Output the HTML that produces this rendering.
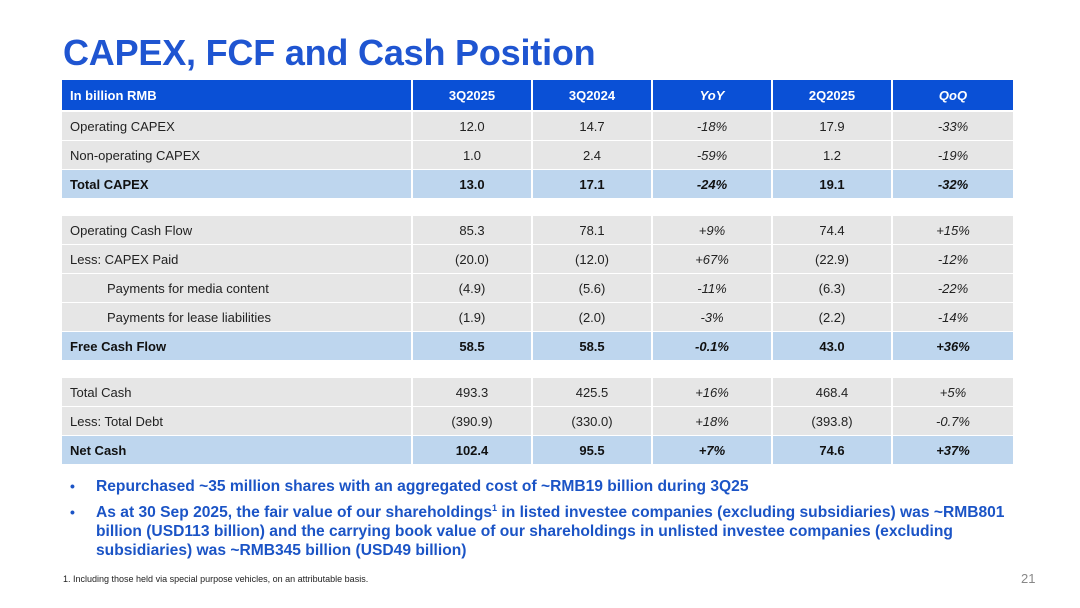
<!DOCTYPE html>
<html><head><meta charset="utf-8">
<style>
*{margin:0;padding:0;box-sizing:border-box}
body{width:1080px;height:608px;background:#fff;font-family:"Liberation Sans",sans-serif;position:relative;overflow:hidden}
#title{position:absolute;left:63px;top:32px;font-size:36px;font-weight:bold;color:#1f55d1;letter-spacing:-0.2px}
.row{position:absolute;left:62px;width:951px;height:28px;display:flex;font-size:13px;color:#222}
.row div{border-right:2px solid #fff;display:flex;align-items:center;justify-content:center;height:100%}
.row div:last-child{border-right:none}
.row div:first-child{justify-content:flex-start;padding-left:8px;width:351px}
.c{width:120px}
.hdr{background:#0a50d6;color:#fff;font-weight:bold;height:30px}
.g{background:#e6e6e6}
.b{background:#bed6ee;font-weight:bold;color:#111}
.i{font-style:italic}
.ind div:first-child{padding-left:45px}
.bul{position:absolute;left:70px;font-size:15.6px;font-weight:bold;color:#1b54c6;line-height:19px}
.bul span.d{position:absolute;left:0;top:0;font-size:14px;color:#1b54c6}
.bul p{margin-left:26px}
#fn{position:absolute;left:63px;top:574px;font-size:9px;color:#222}
#pg{position:absolute;left:1021px;top:571px;font-size:13px;color:#888}
</style></head><body>
<div id="title">CAPEX, FCF and Cash Position</div>

<div class="row hdr" style="top:80px"><div>In billion RMB</div><div class="c">3Q2025</div><div class="c">3Q2024</div><div class="c i">YoY</div><div class="c">2Q2025</div><div class="c i">QoQ</div></div>

<div class="row g" style="top:112px"><div>Operating CAPEX</div><div class="c">12.0</div><div class="c">14.7</div><div class="c i">-18%</div><div class="c">17.9</div><div class="c i">-33%</div></div>
<div class="row g" style="top:141px"><div>Non-operating CAPEX</div><div class="c">1.0</div><div class="c">2.4</div><div class="c i">-59%</div><div class="c">1.2</div><div class="c i">-19%</div></div>
<div class="row b" style="top:170px"><div>Total CAPEX</div><div class="c">13.0</div><div class="c">17.1</div><div class="c i">-24%</div><div class="c">19.1</div><div class="c i">-32%</div></div>

<div class="row g" style="top:216px"><div>Operating Cash Flow</div><div class="c">85.3</div><div class="c">78.1</div><div class="c i">+9%</div><div class="c">74.4</div><div class="c i">+15%</div></div>
<div class="row g" style="top:245px"><div>Less: CAPEX Paid</div><div class="c">(20.0)</div><div class="c">(12.0)</div><div class="c i">+67%</div><div class="c">(22.9)</div><div class="c i">-12%</div></div>
<div class="row g ind" style="top:274px"><div>Payments for media content</div><div class="c">(4.9)</div><div class="c">(5.6)</div><div class="c i">-11%</div><div class="c">(6.3)</div><div class="c i">-22%</div></div>
<div class="row g ind" style="top:303px"><div>Payments for lease liabilities</div><div class="c">(1.9)</div><div class="c">(2.0)</div><div class="c i">-3%</div><div class="c">(2.2)</div><div class="c i">-14%</div></div>
<div class="row b" style="top:332px"><div>Free Cash Flow</div><div class="c">58.5</div><div class="c">58.5</div><div class="c i">-0.1%</div><div class="c">43.0</div><div class="c i">+36%</div></div>

<div class="row g" style="top:378px"><div>Total Cash</div><div class="c">493.3</div><div class="c">425.5</div><div class="c i">+16%</div><div class="c">468.4</div><div class="c i">+5%</div></div>
<div class="row g" style="top:407px"><div>Less: Total Debt</div><div class="c">(390.9)</div><div class="c">(330.0)</div><div class="c i">+18%</div><div class="c">(393.8)</div><div class="c i">-0.7%</div></div>
<div class="row b" style="top:436px"><div>Net Cash</div><div class="c">102.4</div><div class="c">95.5</div><div class="c i">+7%</div><div class="c">74.6</div><div class="c i">+37%</div></div>

<div class="bul" style="top:477px;width:960px"><span class="d">•</span><p>Repurchased ~35 million shares with an aggregated cost of ~RMB19 billion during 3Q25</p></div>
<div class="bul" style="top:503px;width:960px"><span class="d">•</span><p>As at 30 Sep 2025, the fair value of our shareholdings<sup style="font-size:9px;line-height:0">1</sup> in listed investee companies (excluding subsidiaries) was ~RMB801 billion (USD113 billion) and the carrying book value of our shareholdings in unlisted investee companies (excluding subsidiaries) was ~RMB345 billion (USD49 billion)</p></div>

<div id="fn">1. Including those held via special purpose vehicles, on an attributable basis.</div>
<div id="pg">21</div>
</body></html>
